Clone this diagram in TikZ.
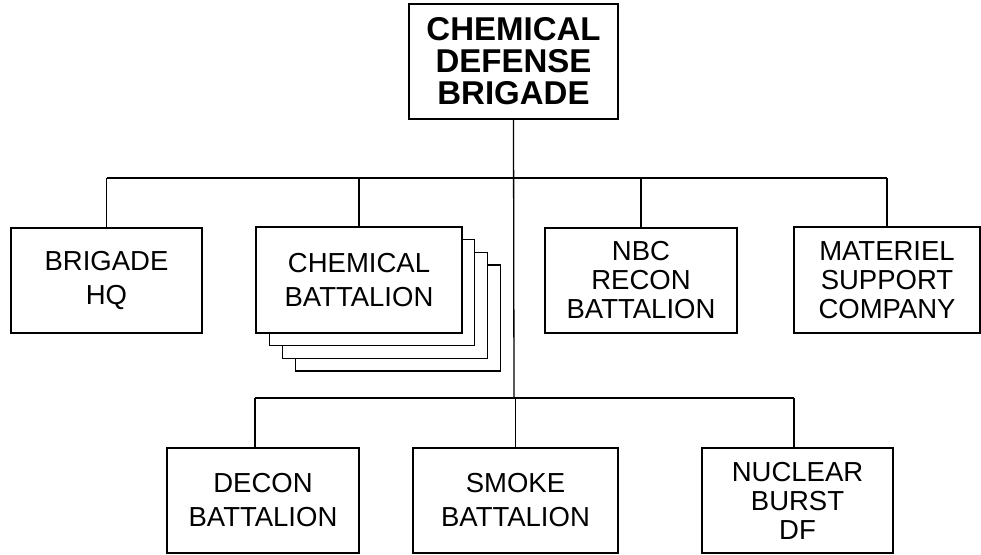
\documentclass[tikz,border=0pt]{standalone}
\usepackage{fontspec}
\setmainfont{Liberation Sans}
\usepackage{tikz}
\usetikzlibrary{positioning, calc}

\begin{document}
\begin{tikzpicture}[
    x=1pt, y=-1pt,
    line width=1.3pt,
    unit/.style={draw=black, fill=white, align=center, inner sep=0pt,
                 minimum width=192pt, minimum height=105pt,
                 font=\fontsize{27.5}{34}\selectfont},
    tall/.style={unit, font=\fontsize{27.5}{29}\selectfont},
    head/.style={unit, minimum width=209pt, minimum height=115pt,
                 font=\fontsize{33}{32}\selectfont\bfseries},
    link/.style={draw=black, line width=1.3pt},
]

\clip (0,0) rectangle (981,554);

% Brigade head
\node[head] (top) at (513.5, 61.5) {CHEMICAL\\DEFENSE\\BRIGADE};

% Bus lines
\coordinate (busA) at (514, 178);
\coordinate (busB) at (514, 398);

% Upper row
\node[unit, minimum width=191pt] (hq) at (106.5, 280.5) {BRIGADE\\HQ};

% Chemical battalion, stacked copies behind
\foreach \k in {3,2,1} {
    \node[unit, minimum width=205pt, minimum height=106pt] (chem\k)
        at (359+13*\k, 280+12.7*\k) {};
}
\node[unit, minimum width=206pt, minimum height=106pt] (chem) at (359, 280) {CHEMICAL\\BATTALION};

\node[tall] (nbc) at (641, 280.5) {NBC\\RECON\\BATTALION};
\node[tall, minimum width=186pt, minimum height=106pt] (mat) at (887, 280) {MATERIEL\\SUPPORT\\COMPANY};

% Lower row
\node[unit] (decon) at (263, 500.5) {DECON\\BATTALION};
\node[unit, minimum width=205pt] (smoke) at (515.5, 500.5) {SMOKE\\BATTALION};
\node[tall, minimum width=191pt] (nuc) at (797.5, 500.5) {NUCLEAR\\BURST\\DF};

% Connectors
\draw[link] (top.south) -- (busB);
\draw[link] (hq.north |- busA) -- (mat.north |- busA);
\foreach \n in {hq, chem, nbc, mat}
    \draw[link] (\n.north |- busA) -- (\n.north);

\draw[link] ([xshift=-8pt]decon.north |- busB) -- ([xshift=-3.5pt]nuc.north |- busB);
\draw[link] ([xshift=-8pt]decon.north |- busB) -- ([xshift=-8pt]decon.north);
\draw[link] (smoke.north |- busB) -- (smoke.north);
\draw[link] ([xshift=-3.5pt]nuc.north |- busB) -- ([xshift=-3.5pt]nuc.north);

\end{tikzpicture}
\end{document}
